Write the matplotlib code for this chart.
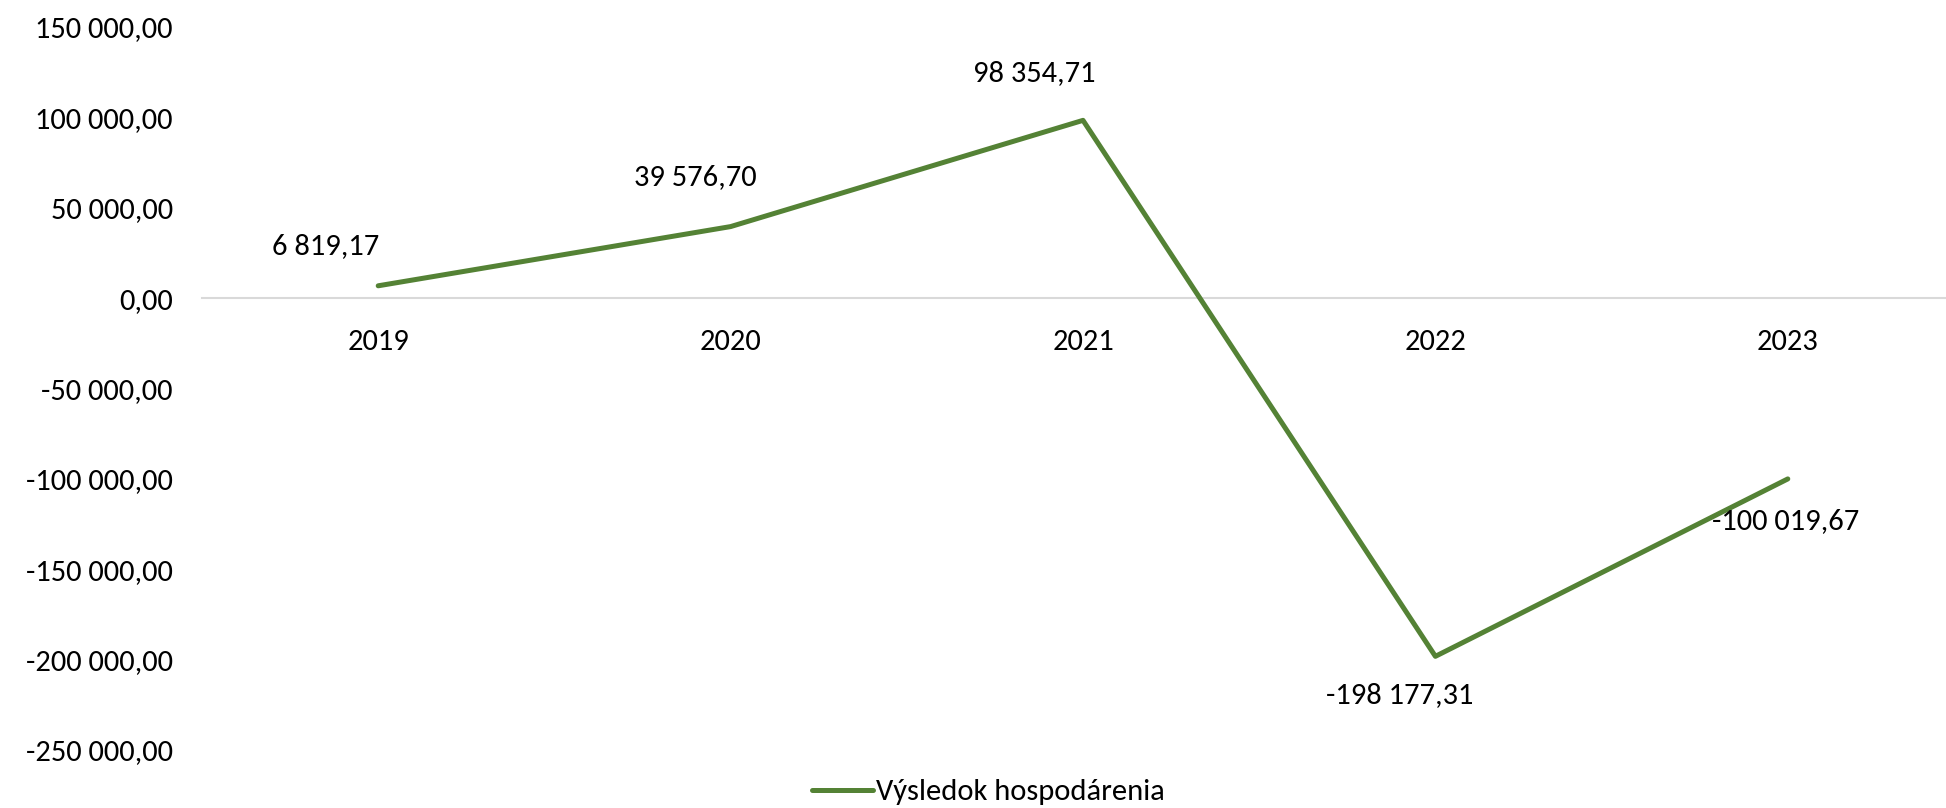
import matplotlib
matplotlib.use("Agg")
import matplotlib.pyplot as plt
from matplotlib.ticker import FuncFormatter

plt.rcParams["font.family"] = ["Carlito", "Lato", "DejaVu Sans"]

# Data
years = ["2019", "2020", "2021", "2022", "2023"]
result = [6819.17, 39576.70, 98354.71, -198177.31, -100019.67]
series_name = "Výsledok hospodárenia"

# label offsets in pixels (dx, dy) relative to each point
label_offsets = [(-53, 40), (-35, 50), (-49, 47), (-36, -39), (-2, -42)]

LINE_COLOR = "#548235"
FS = 22


def fmt_num(v, pos=None):
    s = f"{abs(v):,.2f}".replace(",", " ").replace(".", ",")
    return ("-" if v < 0 else "") + s


def main():
    fig = plt.figure(figsize=(19.46, 8.08), dpi=100)
    ax = fig.add_axes([202 / 1946, 58 / 808, (1964 - 202) / 1946, (750 - 27) / 808])

    x = list(range(len(years)))
    ax.plot(x, result, color=LINE_COLOR, linewidth=3.6, solid_capstyle="round",
            label=series_name, clip_on=False)

    for xi, v, (dx, dy) in zip(x, result, label_offsets):
        ax.annotate(fmt_num(v), (xi, v), xytext=(dx * 0.72, dy * 0.72),
                    textcoords="offset points", ha="center", va="center", fontsize=FS)

    ax.set_xlim(-0.5, 4.5)
    ax.set_ylim(-250000, 150000)
    ax.set_yticks(range(-250000, 150001, 50000))
    ax.yaxis.set_major_formatter(FuncFormatter(fmt_num))
    ax.set_xticks(x)
    ax.set_xticklabels(years)

    for side in ["top", "right", "left"]:
        ax.spines[side].set_visible(False)
    ax.spines["bottom"].set_position(("data", 0))
    ax.spines["bottom"].set_color("#d9d9d9")
    ax.spines["bottom"].set_linewidth(1.5)
    ax.spines["bottom"].set_zorder(0)

    ax.tick_params(axis="y", length=0, pad=21, labelsize=FS)
    ax.tick_params(axis="x", length=0, pad=22, labelsize=FS)

    fig.legend(loc="center", bbox_to_anchor=(988 / 1946, 16 / 808), frameon=False,
               fontsize=FS, handlelength=2.0, handletextpad=0.1)

    fig.savefig("out.png", dpi=100)
    plt.close(fig)


if __name__ == "__main__":
    main()
